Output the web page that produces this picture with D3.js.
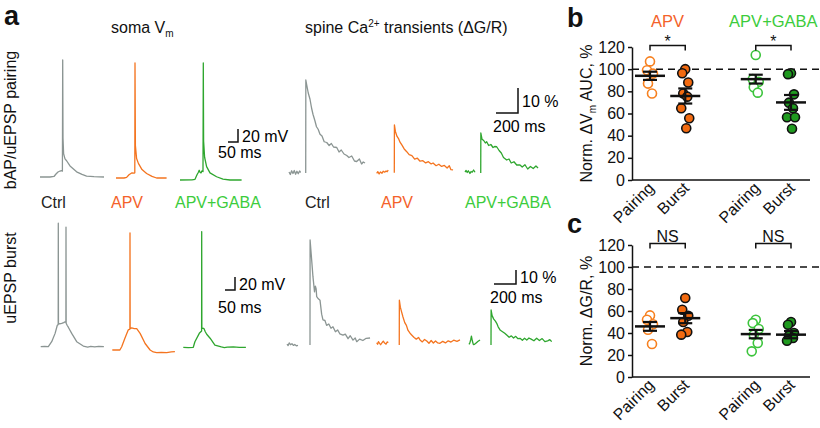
<!DOCTYPE html>
<html>
<head>
<meta charset="utf-8">
<script src="https://cdn.jsdelivr.net/npm/d3@7"></script>
<style>
  body { margin: 0; background: #fff; }
  svg { font-family: "Liberation Sans", Arial, sans-serif; }
  .axis path, .axis line { stroke: #111; stroke-width: 1.5; }
  .axis text { font-size: 16px; fill: #111; }
</style>
</head>
<body>
<div id="chart"></div>
<script>
// ---- panel a : example traces, [time ms, value] ----
const traceConds = ["Ctrl", "APV", "APV+GABA"];
const traceColors = ["#8b9593", "#f4741f", "#2ea62e"];
const condLabelColors = ["#222", "#f4622a", "#3ccc3c"];

// soma Vm, bAP/uEPSP pairing (mV above rest)
const pairCtrlVm = [[0,0],[30,0.3],[50,0],[70,0.8],[80,4.6],[90,7.7],[100,9.2],[110,10],[112,9],[113.5,180],[115,60],[118,36],[125,28],[133,25],[150,17],[183,8],[210,4],[233,1.5],[270,0.5],[320,0]];
const pairApvVm = [[0,0],[40,0],[53,1],[65,5],[80,8],[90,7.5],[94,8],[95,177],[97,50],[103,30],[112,22.5],[130,13],[153,7],[180,2.5],[203,0],[253,0]];
const pairGabaVm = [[0,0],[60,0.3],[75,1],[85,8],[92,12],[96,15],[100,12],[105,11],[110,14],[115,13],[116.5,180],[118,60],[123,35],[133,20.5],[150,11],[183,5],[215,1.5],[250,0],[308,0]];
// soma Vm, uEPSP burst
const burstCtrlVm = [[0,0],[20,0.4],[38,0],[55,7.7],[72,20.5],[83,33],[87.5,34],[88,190],[88.8,36],[95,35],[105,35.8],[115,37],[122,38.3],[126,38],[126.5,184],[127.3,36],[132,33],[138,30],[155,20.5],[180,7.7],[213,1],[235,-0.5],[250,0.5],[270,-0.3],[290,0.6],[316,0]];
const burstApvVm = [[0,0],[20,0.3],[38,0],[47,5],[63,18],[80,31],[88,32],[88.5,180],[89.2,33],[97,34],[110,33],[122,33],[139,25.6],[164,10],[189,0],[205,-3],[222,-4],[245,-3.5],[272,-4],[295,-3],[313,-2.6]];
const burstGabaVm = [[0,0],[25,-0.4],[50,0],[58,8.6],[80,21.5],[91.5,25],[92,178],[92.8,30],[98,29],[103,29],[110,24],[117,20],[134,14],[158,3.5],[190,0.5],[205,-0.5],[220,0.3],[250,0.8],[280,-0.2],[313,0]];

// spine Ca2+ transients dG/R (%), null = gap in the recording
const pairCtrlCa = [[0,0.4],[12,-0.6],[24,0.9],[36,-0.2],[48,1.0],[60,-0.5],[72,0.7],[84,-0.3],[96,0.8],[106,0.2],[130,null],[152,0],[153,37.2],[160,35.5],[175,32],[191,29.5],[205,26],[218,23.5],[235,21],[250,18.5],[265,17.5],[282,15.5],[300,14.8],[320,12.5],[343,12.2],[365,11],[385,11.8],[405,10.4],[434,10.2],[455,8.4],[475,9.2],[500,7.6],[525,7],[545,6.2],[570,6.8],[595,4.8],[615,4.6],[640,5.6],[660,3.6],[675,4.4],[691,4]];
const pairApvCa = [[0,-0.3],[10,0.4],[22,-0.5],[35,0.3],[48,-0.2],[60,0.6],[72,0.2],[85,0.7],[95,0.4],[105,1.0],[130,null],[160,0],[161,19.1],[170,16.5],[185,14.5],[200,13.5],[212,12.2],[230,11],[250,9.5],[273,8.4],[295,7.2],[320,6.8],[345,5.4],[370,5.8],[394,4.6],[420,4.8],[445,3.9],[470,4.4],[495,3.5],[512,3.9],[540,2.8],[565,3.4],[590,2.5],[615,2.9],[640,1.9],[660,2.8],[675,1.2],[694,1.1]];
const pairGabaCa = [[0,0.4],[10,1.0],[20,0.2],[30,0.9],[45,-0.2],[55,0.6],[65,0.3],[78,1.2],[91,0.3],[115,null],[143,0],[144,16],[155,13.5],[170,13],[185,12],[197,12.5],[215,11],[235,11.4],[255,10.2],[270,10.6],[288,10.5],[310,9],[330,8],[350,6.2],[379,5.2],[400,5.6],[420,4],[445,4.5],[470,3.2],[500,3.2],[520,2.4],[545,3.3],[570,1.6],[595,2.6],[620,1.8],[645,2.8],[664,2]];
const burstCtrlCa = [[0,0.6],[10,-0.4],[20,1.5],[32,0.2],[45,0.9],[58,-0.3],[70,0.4],[85,-0.6],[100,-0.3],[150,null],[209,0],[210,75],[220,65],[236,48.8],[250,38],[258,42],[265,40],[270,34.5],[285,33],[300,32],[315,22],[327,17.9],[345,17.5],[360,14],[380,15],[400,12],[418,13],[440,9.5],[460,10.8],[480,8],[509,7],[530,7.8],[555,4.5],[575,6.6],[600,3.5],[620,5],[634,2.4],[660,4.2],[690,3.2],[720,4.8],[755,5]];
const burstApvCa = [[0,1.6],[8,0.5],[16,2.4],[26,1.2],[36,0.2],[48,1.6],[60,2.8],[72,1.4],[85,0.6],[95,2.2],[106,1.8],[150,null],[205,0],[206,32],[215,27],[225,24],[239,20],[255,16],[270,14],[285,10.4],[303,8.4],[320,7],[340,5.4],[360,4.2],[380,5.4],[394,3.6],[415,2.2],[435,4],[455,2.8],[475,1.2],[495,3.2],[515,1.4],[535,2.9],[555,1.5],[575,1.2],[600,2.6],[625,1.5],[650,3],[675,2.1],[700,3.4],[730,2.6],[757,3.6]];
const burstGabaCa = [[0,0.5],[8,1.5],[16,4],[22,6.4],[30,3],[40,0.3],[50,0.5],[65,1.5],[80,2.5],[100,3.6],[150,null],[200,0],[201,25],[210,21],[225,18.5],[240,17],[252,15.5],[265,13],[285,10.5],[305,9.5],[325,8.4],[343,7.1],[365,5.5],[385,6.5],[405,5],[425,6.2],[445,4.5],[464,4.8],[485,3.4],[505,4.8],[525,3.5],[545,5],[565,4.2],[590,3],[615,4.8],[640,3.2],[665,4.6],[690,2.4],[715,3],[735,3.8],[752,2.4]];

// ---- panels b, c : normalized values (%) ----
const groups = ["APV", "APV+GABA"];
const protocols = ["Pairing", "Burst", "Pairing", "Burst"];
const aucValues = [
  [107, 99, 96, 87, 78],
  [100, 96.3, 88, 78, 75.2, 64.7, 55.7, 46.7],
  [112.8, 91, 88.7, 83.7, 78.8],
  [96.3, 95.5, 77.3, 69.8, 64.7, 56.6, 56.6, 46.3]
];
const aucMean = [94, 75.8, 91, 70];
const aucSem = [3.7, 6.8, 4, 6.7];
const caValues = [
  [56, 52, 48, 43, 30],
  [71.8, 61.2, 55.7, 50, 40.9, 38.5],
  [52, 49, 43.6, 38.5, 30.9, 23.3],
  [50, 47.5, 40, 37.5, 35.4, 33]
];
const caMean = [46, 53.5, 39, 38.5];
const caSem = [4, 4.6, 3.8, 3.3];
const yTicks = [0, 20, 40, 60, 80, 100, 120];
const sigLabels = ["*", "NS"];

const W = 820, H = 428;
const svg = d3.select("#chart").append("svg").attr("width", W).attr("height", H);

// ---------- panel a ----------
const somaT = d3.scaleLinear().domain([0, 50]).range([0, 10]);
const somaV = d3.scaleLinear().domain([0, 20]).range([0, -13]);
const caT = d3.scaleLinear().domain([0, 200]).range([0, 22]);
const caV1 = d3.scaleLinear().domain([0, 10]).range([0, -25]);
const caV2 = d3.scaleLinear().domain([0, 10]).range([0, -14]);

function drawTrace(data, origin, tS, vS, color) {
  const line = d3.line()
    .defined(d => d[1] !== null)
    .x(d => tS(d[0]))
    .y(d => vS(d[1]));
  svg.append("g")
    .attr("transform", `translate(${origin[0]},${origin[1]})`)
    .append("path")
    .datum(data)
    .attr("d", line)
    .attr("fill", "none")
    .attr("stroke", color)
    .attr("stroke-width", 1.3)
    .attr("stroke-linejoin", "round");
}

function scaleBar(corner, tS, vS, tVal, vVal, vText, tText, tx, ty) {
  const g = svg.append("g").attr("transform", `translate(${corner[0]},${corner[1]})`);
  g.append("path")
    .attr("d", `M${-tS(tVal)},0H0V${vS(vVal)}`)
    .attr("fill", "none").attr("stroke", "#111").attr("stroke-width", 1.5);
  g.append("text").attr("x", 4).attr("y", vS(vVal) / 2 + 6).attr("font-size", 16).text(vText);
  g.append("text").attr("x", tx).attr("y", ty).attr("font-size", 16).text(tText);
}

const somaSets = [[pairCtrlVm, pairApvVm, pairGabaVm], [burstCtrlVm, burstApvVm, burstGabaVm]];
const somaOrigins = [[[40, 177], [116, 178], [180, 180]], [[40.7, 346.7], [112.3, 350], [183.3, 347.3]]];
const caSets = [[pairCtrlCa, pairApvCa, pairGabaCa], [burstCtrlCa, burstApvCa, burstGabaCa]];
const caOrigins = [[[289, 173], [376.7, 172.7], [465, 173]], [[287, 345], [376.7, 345], [469, 345]]];
const caVs = [caV1, caV2];

somaSets.forEach((row, r) => row.forEach((tr, i) =>
  drawTrace(tr, somaOrigins[r][i], somaT, somaV, traceColors[i])));
caSets.forEach((row, r) => row.forEach((tr, i) =>
  drawTrace(tr, caOrigins[r][i], caT, caVs[r], traceColors[i])));

scaleBar([238, 142], somaT, somaV, 50, 20, "20 mV", "50 ms", -20, 16);
scaleBar([235, 290], somaT, somaV, 50, 20, "20 mV", "50 ms", -17, 23);
scaleBar([518, 113], caT, caV1, 200, 10, "10 %", "200 ms", -25, 19);
scaleBar([516, 284], caT, caV2, 200, 10, "10 %", "200 ms", -26, 19);

// condition labels
const somaLabelX = [41, 111, 175];
const caLabelX = [305, 381, 465];
traceConds.forEach((c, i) => {
  svg.append("text").attr("x", somaLabelX[i]).attr("y", 208).attr("font-size", 16)
    .attr("fill", condLabelColors[i]).text(c);
  svg.append("text").attr("x", caLabelX[i]).attr("y", 208).attr("font-size", 16)
    .attr("fill", condLabelColors[i]).text(c);
});

// headers
const somaHead = svg.append("text").attr("x", 111).attr("y", 33).attr("font-size", 16).attr("fill", "#111");
somaHead.append("tspan").text("soma V");
somaHead.append("tspan").attr("font-size", 10).attr("dy", 4).text("m");
const caHead = svg.append("text").attr("x", 305).attr("y", 33).attr("font-size", 16).attr("fill", "#111");
caHead.append("tspan").text("spine Ca");
caHead.append("tspan").attr("font-size", 10).attr("dy", -6).text("2+");
caHead.append("tspan").attr("dy", 6).text(" transients (\u0394G/R)");

// row labels
svg.append("text").attr("transform", "translate(16,120) rotate(-90)")
  .attr("text-anchor", "middle").attr("font-size", 16).attr("fill", "#111").text("bAP/uEPSP pairing");
svg.append("text").attr("transform", "translate(16,278) rotate(-90)")
  .attr("text-anchor", "middle").attr("font-size", 16).attr("fill", "#111").text("uEPSP burst");

// panel letters
[["a", 4, 25], ["b", 567, 27], ["c", 567, 233]].forEach(p =>
  svg.append("text").attr("x", p[1]).attr("y", p[2]).attr("font-size", 27)
    .attr("font-weight", "bold").attr("fill", "#111").text(p[0]));

// ---------- panels b, c ----------
const openColors = ["#f7801f", "#3cc43c"];
const fillColors = ["#f26a10", "#1f9a1f"];
const jitter = [0, -3, 3, -2, 2, -4, 4, 1];
const xPos = d3.scaleLinear().domain([0, 4]).range([650, 791]);
const catIdx = [0, 1, 3, 4];

function dotPanel(top, bottom, values, means, sems, yLabel, sig) {
  const y = d3.scaleLinear().domain([0, 120]).range([bottom, top]);
  const g = svg.append("g");
  // reference line
  g.append("line").attr("x1", 632).attr("x2", 820).attr("y1", y(100)).attr("y2", y(100))
    .attr("stroke", "#111").attr("stroke-width", 1.5).attr("stroke-dasharray", "7,5");
  g.append("g").attr("class", "axis").attr("transform", "translate(632,0)")
    .call(d3.axisLeft(y).tickValues(yTicks).tickSize(4).tickPadding(3).tickSizeOuter(0));
  g.append("line").attr("x1", 632).attr("x2", 810).attr("y1", y(0)).attr("y2", y(0))
    .attr("stroke", "#111").attr("stroke-width", 1.5);
  // x labels
  protocols.forEach((p, i) => {
    g.append("text").attr("transform", `translate(${xPos(catIdx[i]) + 5},${y(0) + 9}) rotate(-45)`)
      .attr("text-anchor", "end").attr("font-size", 16).attr("fill", "#111").text(p);
  });
  // points
  values.forEach((vals, i) => {
    const grp = Math.floor(i / 2), filled = i % 2 === 1;
    g.selectAll(null).data(vals).enter().append("circle")
      .attr("cx", (d, k) => xPos(catIdx[i]) + jitter[k])
      .attr("cy", d => y(d))
      .attr("r", 4.5)
      .attr("fill", filled ? fillColors[grp] : "#fff")
      .attr("stroke", filled ? "#111" : openColors[grp])
      .attr("stroke-width", 1.6);
    const cx = xPos(catIdx[i]);
    g.append("line").attr("x1", cx).attr("x2", cx).attr("y1", y(means[i] - sems[i])).attr("y2", y(means[i] + sems[i]))
      .attr("stroke", "#111").attr("stroke-width", 2.2);
    [means[i] - sems[i], means[i] + sems[i]].forEach(v =>
      g.append("line").attr("x1", cx - 7).attr("x2", cx + 7).attr("y1", y(v)).attr("y2", y(v))
        .attr("stroke", "#111").attr("stroke-width", 2.2));
    g.append("line").attr("x1", cx - 15).attr("x2", cx + 15).attr("y1", y(means[i])).attr("y2", y(means[i]))
      .attr("stroke", "#111").attr("stroke-width", 2.5);
  });
  // significance brackets
  [0, 1].forEach(k => {
    const x1 = xPos(catIdx[2 * k]), x2 = xPos(catIdx[2 * k + 1]);
    const by = top - 1.5;
    g.append("path").attr("d", `M${x1},${by + 5}V${by}H${x2}V${by + 5}`)
      .attr("fill", "none").attr("stroke", "#111").attr("stroke-width", 1.5);
    g.append("text").attr("x", (x1 + x2) / 2).attr("y", sig === "*" ? by + 1 : by - 2)
      .attr("text-anchor", "middle").attr("font-size", 16).attr("fill", "#111").text(sig);
  });
  // y label: [text, subscript?]
  const lab = g.append("text").attr("transform", `translate(592,${(top + bottom) / 2}) rotate(-90)`)
    .attr("text-anchor", "middle").attr("font-size", 16).attr("fill", "#111");
  let shift = 0;
  yLabel.forEach(part => {
    const t = lab.append("tspan").text(part[0]);
    const dy = part[1] ? 4 : 0;
    if (part[1]) t.attr("font-size", 10);
    if (dy - shift !== 0) t.attr("dy", dy - shift);
    shift = dy;
  });
}

dotPanel(47, 180, aucValues, aucMean, aucSem,
  [["Norm. \u0394V"], ["m", true], [" AUC, %"]], sigLabels[0]);
dotPanel(245, 377, caValues, caMean, caSem, [["Norm. \u0394G/R, %"]], sigLabels[1]);

// group titles for b
groups.forEach((gname, k) => {
  svg.append("text").attr("x", (xPos(catIdx[2 * k]) + xPos(catIdx[2 * k + 1])) / 2).attr("y", 26.5)
    .attr("text-anchor", "middle").attr("font-size", 16.5).attr("fill", k === 0 ? "#f4622a" : "#3ccc3c").text(gname);
});
</script>
</body>
</html>
